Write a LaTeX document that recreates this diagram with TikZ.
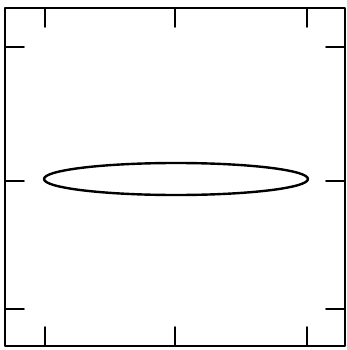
\documentclass[tikz,border=0pt]{standalone}
\begin{document}
\begin{tikzpicture}[x=1pt,y=-1pt,line cap=round,line join=round]
  \def\T{19}
  \useasboundingbox (0,0) rectangle (347,350);
  \coordinate (SW) at (5,346); \coordinate (NE) at (345,8);
  \coordinate (O) at (176,179);
  \draw[line width=2.4pt] (SW) rectangle (NE);
  \foreach \x in {45,175,307} {
    \draw[line width=1.8pt] (\x,8)--(\x,8+\T);
    \draw[line width=1.8pt] (\x,346)--(\x,346-\T);
  }
  \foreach \y in {47,181,309} {
    \draw[line width=1.8pt] (5,\y)--(5+\T,\y);
    \draw[line width=1.8pt] (345,\y)--(345-\T,\y);
  }
  \draw[line width=2.4pt] (O) ellipse (132 and 16);
\end{tikzpicture}
\end{document}
